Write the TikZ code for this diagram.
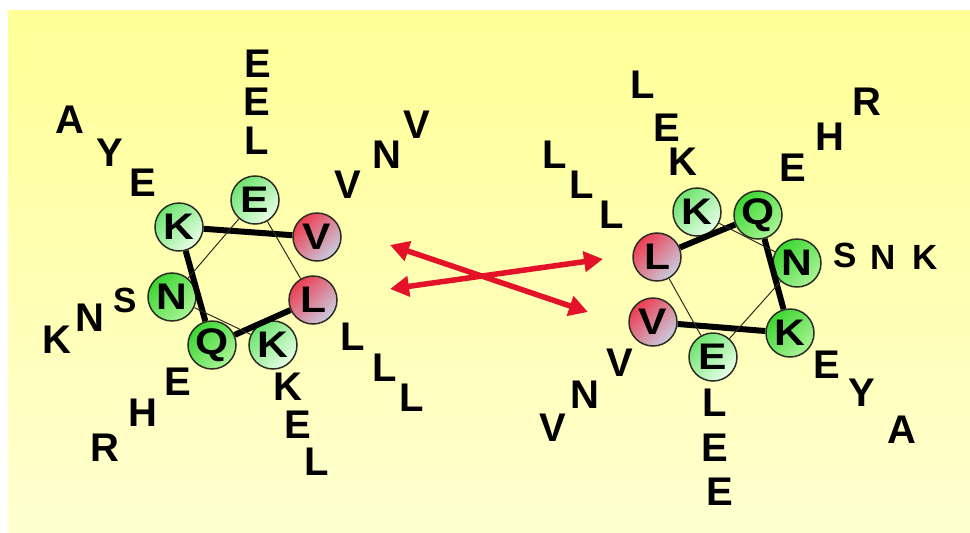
\documentclass[tikz,border=0pt]{standalone}
\usepackage{fontspec}
\setmainfont{Liberation Sans}
\newfontfamily\widefont[FakeStretch=1.15]{Liberation Sans Bold}
\usetikzlibrary{arrows.meta}
\definecolor{bgtop}{RGB}{255,255,150}
\definecolor{bgbot}{RGB}{255,255,208}
\definecolor{gA}{RGB}{110,228,110}
\definecolor{gB}{RGB}{232,255,232}
\definecolor{dA}{RGB}{60,214,50}
\definecolor{dB}{RGB}{170,245,150}
\definecolor{rA}{RGB}{238,60,80}
\definecolor{rB}{RGB}{200,205,225}
\definecolor{arr}{RGB}{228,18,40}
\definecolor{edge}{RGB}{45,45,35}
\tikzset{
  res/.style={circle,draw=edge,line width=1.5pt,minimum size=48pt,inner sep=0pt,font=\widefont\fontsize{37}{37}\selectfont},
  lg/.style={res,top color=gA,bottom color=gB,shading angle=45},
  dg/.style={res,top color=dA,bottom color=dB,shading angle=45},
  rd/.style={res,top color=rA,bottom color=rB,shading angle=45},
  lt/.style={inner sep=0pt,font=\bfseries\fontsize{40}{40}\selectfont},
  ls/.style={inner sep=0pt,font=\bfseries\fontsize{35}{35}\selectfont},
  thk/.style={line width=6pt,black},
  thn/.style={line width=1pt,edge},
  dbl/.style={arr,line width=5.5pt,{Triangle[length=19pt,width=20pt]}-{Triangle[length=19pt,width=20pt]}}
}
\begin{document}
\begin{tikzpicture}[x=1pt,y=-1pt]
\fill[white] (0,0) rectangle (970,533);
\useasboundingbox (0,0) rectangle (970,533);
\shade[top color=bgtop,bottom color=bgbot] (8,10) rectangle (970,533);

% left wheel
\node[lg] (lK1) at (179,227) {K};
\node[lg] (lE1) at (255,200) {E};
\node[rd] (lV1) at (317,237) {V};
\node[rd] (lL1) at (313,300) {L};
\node[lg] (lK2) at (273,345) {K};
\node[dg] (lQ1) at (212,345) {Q};
\node[dg] (lN1) at (172,297) {N};
\draw[thk] (lK1) -- (lV1);
\draw[thk] (lK1) -- (lQ1);
\draw[thk] (lQ1) -- (lL1);
\draw[thn] (lE1) -- (lN1);
\draw[thn] (lE1) -- (lL1);
\draw[thn] (lN1) -- (lK2);

% left letters
\node[lt] (a1) at (258,64) {E};
\node[lt] (a2) at (257,102) {E};
\node[lt] (a3) at (257,141) {L};
\node[lt] (a4) at (70,120) {A};
\node[lt] (a5) at (110,153) {Y};
\node[lt] (a6) at (143,183) {E};
\node[lt] (a7) at (348,185) {V};
\node[lt] (a8) at (387,155) {N};
\node[lt] (a9) at (417,125) {V};
\node[ls] (a10) at (125,300) {S};
\node[lt] (a11) at (90,318) {N};
\node[lt] (a12) at (57,340) {K};
\node[lt] (a13) at (178,382) {E};
\node[lt] (a14) at (143,413) {H};
\node[lt] (a15) at (105,448) {R};
\node[lt] (a16) at (288,387) {K};
\node[lt] (a17) at (298,425) {E};
\node[lt] (a18) at (317,462) {L};
\node[lt] (a19) at (353,337) {L};
\node[lt] (a20) at (385,368) {L};
\node[lt] (a21) at (412,398) {L};

% right wheel
\node[lg] (rK1) at (697,212) {K};
\node[dg] (rQ1) at (758,215) {Q};
\node[dg] (rN1) at (797,263) {N};
\node[dg] (rK2) at (790,333) {K};
\node[lg] (rE1) at (713,357) {E};
\node[rd] (rV1) at (653,322) {V};
\node[rd] (rL1) at (657,257) {L};
\draw[thk] (rL1) -- (rQ1);
\draw[thk] (rQ1) -- (rK2);
\draw[thk] (rV1) -- (rK2);
\draw[thn] (rK1) -- (rN1);
\draw[thn] (rL1) -- (rE1);
\draw[thn] (rE1) -- (rN1);

% right letters
\node[lt] (b1) at (643,85) {L};
\node[lt] (b2) at (667,128) {E};
\node[lt] (b3) at (683,162) {K};
\node[lt] (b4) at (555,155) {L};
\node[lt] (b5) at (582,185) {L};
\node[lt] (b6) at (612,215) {L};
\node[lt] (b7) at (793,168) {E};
\node[lt] (b8) at (830,137) {H};
\node[lt] (b9) at (867,102) {R};
\node[ls] (b10) at (845,255) {S};
\node[ls] (b11) at (883,257) {N};
\node[ls] (b12) at (925,257) {K};
\node[lt] (b13) at (827,365) {E};
\node[lt] (b14) at (862,393) {Y};
\node[lt] (b15) at (902,430) {A};
\node[lt] (b16) at (620,363) {V};
\node[lt] (b17) at (585,395) {N};
\node[lt] (b18) at (553,428) {V};
\node[lt] (b19) at (715,403) {L};
\node[lt] (b20) at (715,448) {E};
\node[lt] (b21) at (720,492) {E};

% arrows
\coordinate (p1) at (390,245);
\coordinate (p2) at (588,312);
\coordinate (p3) at (390,289);
\coordinate (p4) at (603,259);
\draw[dbl] (p1) -- (p2);
\draw[dbl] (p3) -- (p4);
\end{tikzpicture}
\end{document}
